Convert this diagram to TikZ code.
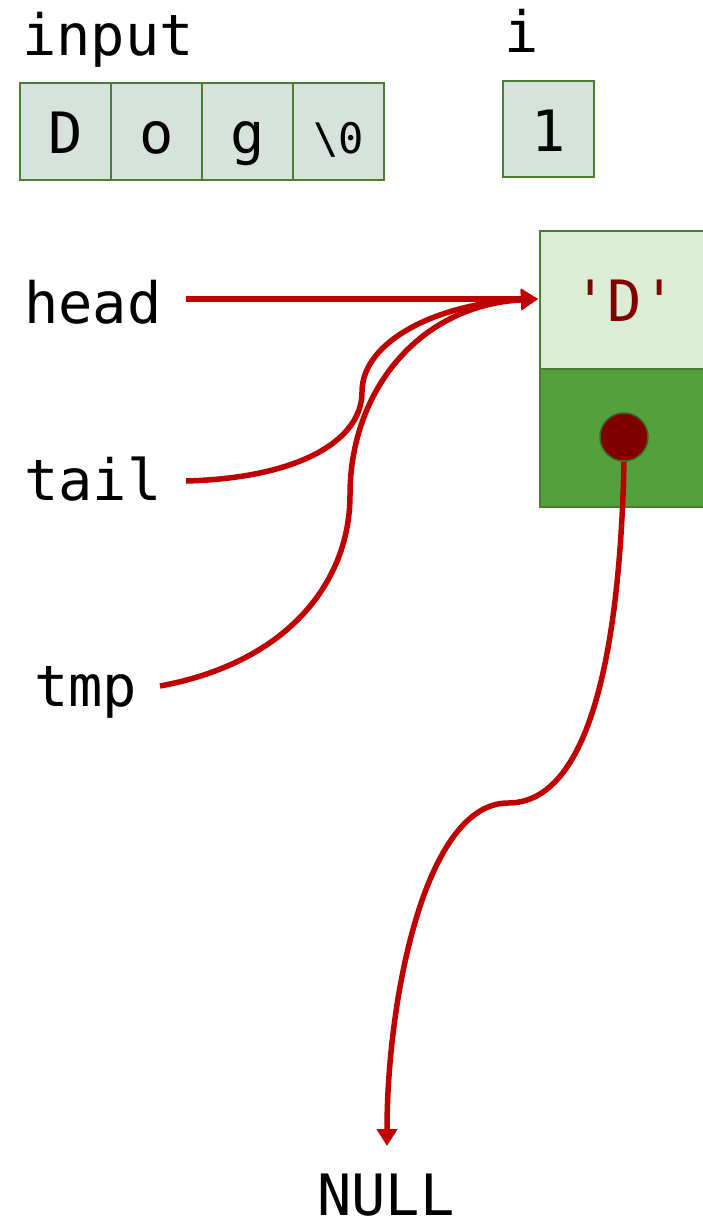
\documentclass[tikz,border=0pt]{standalone}
\usepackage{fontspec}
\setmonofont{DejaVu Sans Mono}
\usetikzlibrary{arrows.meta}
\definecolor{cellfill}{HTML}{D6E2DB}
\definecolor{cellline}{HTML}{4B7E32}
\definecolor{dataFill}{HTML}{DCEDD5}
\definecolor{nextFill}{HTML}{54A03A}
\definecolor{ptr}{HTML}{C00000}
\definecolor{dred}{HTML}{800000}
\tikzset{
  lbl/.style={font=\ttfamily\fontsize{57}{64}\selectfont, inner sep=0pt, anchor=base west},
  cell/.style={draw=cellline, line width=2pt, fill=cellfill, minimum width=91pt, minimum height=97pt, inner sep=0pt, anchor=north west, text height=44pt, text depth=0pt, font=\ttfamily\fontsize{57}{64}\selectfont},
  ptrline/.style={draw=ptr, line width=5.5pt, -{Triangle[length=17pt,width=20pt]}},
}
\begin{document}
\begin{tikzpicture}[x=1pt,y=-1pt]
\useasboundingbox (0,0) rectangle (702,1221);
% labels
\node[lbl] (linput) at (22,55) {input};
\node[lbl] (li) at (504,52) {i};
\node[lbl] (lhead) at (24,323) {head};
\node[lbl] (ltail) at (24,500) {tail};
\node[lbl] (ltmp) at (34,706) {tmp};
\node[lbl, anchor=base, text depth=0pt] (lnull) at (386,1215) {NULL};
% input array
\node[cell] (c0) at (19,82) {D};
\node[cell] (c1) at (110,82) {o};
\node[cell] (c2) at (201,82) {g};
\node[cell, font=\ttfamily\fontsize{42}{46}\selectfont] (c3) at (292,82) {\textbackslash0};
% i
\node[cell, minimum height=96pt] (ci) at (502,80) {1};
% list node
\node[draw=cellline, line width=2pt, fill=dataFill, minimum width=170pt, minimum height=138pt, anchor=north west, inner sep=0pt, text height=42pt, text depth=0pt, text=dred, font=\ttfamily\fontsize{57}{64}\selectfont] (data) at (539,230) {'D'};
\node[draw=cellline, line width=2pt, fill=nextFill, minimum width=170pt, minimum height=138pt, anchor=north west, inner sep=0pt] (next) at (539,368) {};
\node[circle, fill=dred, draw=cellline!80!black, line width=1.5pt, minimum size=48pt, inner sep=0pt] (dot) at (624,437) {};
% pointers
\coordinate (hs) at (186,299);
\coordinate (ts) at (186,481);
\coordinate (ms) at (160,686);
\coordinate (tip) at (538,299);
\draw[ptrline] (ms) .. controls (290,662) and (350,580) .. (350,495) .. controls (350,390) and (420,305) .. (tip);
\draw[ptrline] (ts) .. controls (300,478) and (362,440) .. (362,392) .. controls (362,340) and (440,303) .. (tip);
\draw[ptrline] (hs) -- (tip);
\draw[ptrline] (dot.south) .. controls (620,650) and (590,803) .. (508,803) .. controls (425,803) and (387,1000) .. (387,1146);
\end{tikzpicture}
\end{document}
